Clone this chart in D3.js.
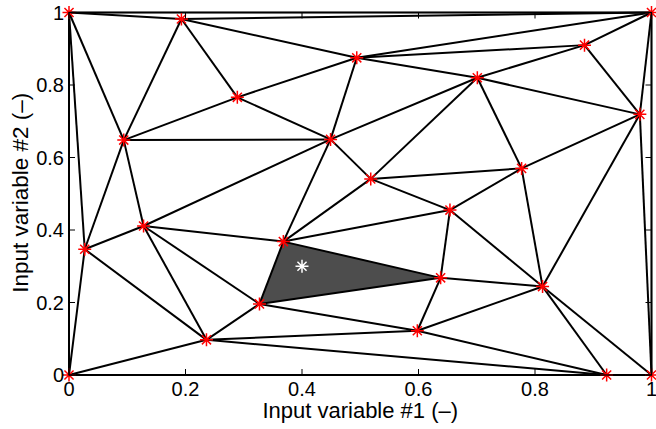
<!DOCTYPE html>
<html>
<head>
<meta charset="utf-8">
<script src="https://d3js.org/d3.v7.min.js"></script>
<style>
body { margin: 0; background: #fff; }
text { font-family: "Liberation Sans", Arial, sans-serif; }
</style>
</head>
<body>
<div id="chart"></div>
<script>
// sample points (input variable #1, input variable #2)
const xs = [0, 0.193, 0.289, 0.094, 0.494, 0.449, 0.701, 0.885, 1, 0.980, 0.518, 0.777,
            0.654, 0.368, 0.128, 0.027, 0.327, 0.236, 0, 0.638, 0.813, 0.598, 0.923, 1];
const ys = [1, 0.982, 0.766, 0.648, 0.875, 0.650, 0.820, 0.910, 1, 0.719, 0.541, 0.570,
            0.455, 0.368, 0.411, 0.347, 0.196, 0.097, 0, 0.268, 0.244, 0.122, 0, 0];
// query point
const qx = [0.4], qy = [0.3];
const ticks = [0, 0.2, 0.4, 0.6, 0.8, 1];
const tickLabels = ["0", "0.2", "0.4", "0.6", "0.8", "1"];

const W = 656, H = 429;
const margin = {top: 12.5, right: 4.5, bottom: 54, left: 69};
const width = W - margin.left - margin.right,
      height = H - margin.top - margin.bottom;

const svg = d3.select("#chart").append("svg")
    .attr("width", W).attr("height", H);
const g = svg.append("g")
    .attr("transform", `translate(${margin.left},${margin.top})`);

const x = d3.scaleLinear().domain([0, 1]).range([0, width]);
const y = d3.scaleLinear().domain([0, 1]).range([height, 0]);

// triangulation in data space
const pts = xs.map((d, i) => [d, ys[i]]);
const delaunay = d3.Delaunay.from(pts);
const tri = delaunay.triangles;

// triangle containing the query point
function inside(p, a, b, c) {
  const s = (u, v, w) => (u[0] - w[0]) * (v[1] - w[1]) - (v[0] - w[0]) * (u[1] - w[1]);
  const d1 = s(p, a, b), d2 = s(p, b, c), d3 = s(p, c, a);
  const neg = d1 < 0 || d2 < 0 || d3 < 0, pos = d1 > 0 || d2 > 0 || d3 > 0;
  return !(neg && pos);
}
const q = [qx[0], qy[0]];
let hit = null;
for (let t = 0; t < tri.length; t += 3) {
  const a = pts[tri[t]], b = pts[tri[t + 1]], c = pts[tri[t + 2]];
  if (inside(q, a, b, c)) { hit = [a, b, c]; break; }
}

if (hit) {
  g.append("path")
    .attr("d", "M" + hit.map(p => [x(p[0]), y(p[1])].join(",")).join("L") + "Z")
    .attr("fill", "#4d4d4d");
}

// triangle edges
const edges = [];
for (let t = 0; t < tri.length; t += 3) {
  for (let k = 0; k < 3; k++) {
    const i = tri[t + k], j = tri[t + (k + 1) % 3];
    if (i < j || delaunay.halfedges[t + k] === -1) edges.push([i, j]);
  }
}
g.append("g").selectAll("line").data(edges).join("line")
  .attr("x1", d => x(xs[d[0]])).attr("y1", d => y(ys[d[0]]))
  .attr("x2", d => x(xs[d[1]])).attr("y2", d => y(ys[d[1]]))
  .attr("stroke", "#000").attr("stroke-width", 2);

// axes box with inward ticks
const box = svg.append("g").attr("transform", `translate(${margin.left},${margin.top})`);
box.append("rect").attr("width", width).attr("height", height)
  .attr("fill", "none").attr("stroke", "#000").attr("stroke-width", 1.2);
const tl = 6;
ticks.forEach(t => {
  box.append("line").attr("x1", x(t)).attr("x2", x(t)).attr("y1", height).attr("y2", height - tl)
    .attr("stroke", "#000").attr("stroke-width", 1);
  box.append("line").attr("x1", x(t)).attr("x2", x(t)).attr("y1", 0).attr("y2", tl)
    .attr("stroke", "#000").attr("stroke-width", 1);
  box.append("line").attr("y1", y(t)).attr("y2", y(t)).attr("x1", 0).attr("x2", tl)
    .attr("stroke", "#000").attr("stroke-width", 1);
  box.append("line").attr("y1", y(t)).attr("y2", y(t)).attr("x1", width).attr("x2", width - tl)
    .attr("stroke", "#000").attr("stroke-width", 1);
});
box.selectAll(".xt").data(ticks).join("text")
  .attr("x", d => x(d)).attr("y", height + 21)
  .attr("text-anchor", "middle").attr("font-size", 20)
  .text((d, i) => tickLabels[i]);
box.selectAll(".yt").data(ticks).join("text")
  .attr("x", -5).attr("y", d => y(d) + 7)
  .attr("text-anchor", "end").attr("font-size", 20)
  .text((d, i) => tickLabels[i]);

svg.append("text").attr("x", margin.left + width / 2).attr("y", 418)
  .attr("text-anchor", "middle").attr("font-size", 22)
  .text("Input variable #1 (–)");
svg.append("text")
  .attr("transform", `translate(28,${margin.top + height / 2 - 1}) rotate(-90)`)
  .attr("text-anchor", "middle").attr("font-size", 22.5)
  .text("Input variable #2 (–)");

// asterisk markers
const r = 6.5;
const star = `M${-r},0L${r},0M0,${-r}L0,${r}M${-r * 0.7},${-r * 0.7}L${r * 0.7},${r * 0.7}M${-r * 0.7},${r * 0.7}L${r * 0.7},${-r * 0.7}`;
g.append("g").selectAll("path").data(pts).join("path")
  .attr("transform", d => `translate(${x(d[0])},${y(d[1])})`)
  .attr("d", star).attr("stroke", "#ff0000").attr("stroke-width", 1.5).attr("fill", "none");
g.append("path")
  .attr("transform", `translate(${x(qx[0])},${y(qy[0])})`)
  .attr("d", star).attr("stroke", "#fff").attr("stroke-width", 1.5).attr("fill", "none");
</script>
</body>
</html>
